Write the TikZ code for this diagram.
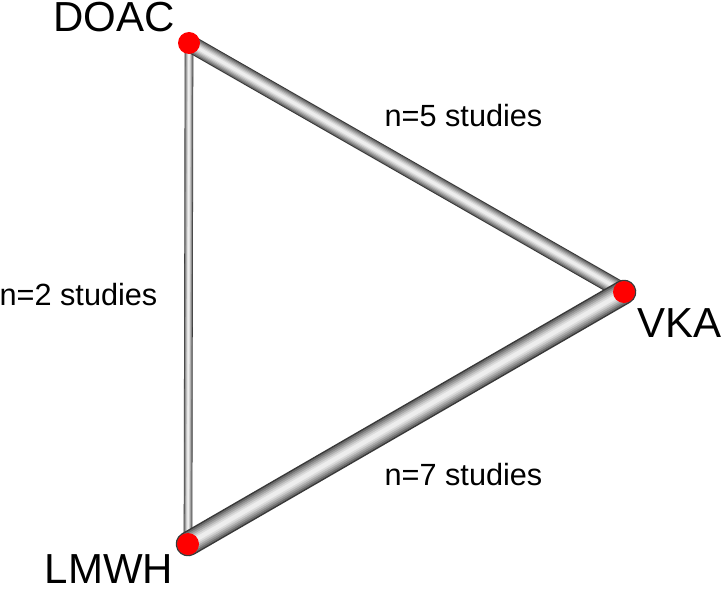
\documentclass[tikz,border=0pt]{standalone}
\usepackage{fontspec}
\setmainfont{Liberation Sans}
\usetikzlibrary{backgrounds}

% gray tube between two named points, width in pt
\newcommand{\tubeedge}[3]{%
  \foreach \f/\s in {1.00/22,0.88/42,0.74/55,0.60/66,0.46/77,0.32/86,0.18/93}{
    \pgfmathsetmacro\lw{\f*#3}
    \draw[line width=\lw pt,line cap=round,white!\s!black] (#1) -- (#2);
  }}

\tikzset{
  dot/.style={circle,fill=red,draw=none,minimum size=16.5pt,inner sep=0pt},
  drug/.style={anchor=base,inner sep=0pt,font=\fontsize{31.5}{36}\selectfont},
  count/.style={anchor=base,inner sep=0pt,font=\fontsize{23}{27}\selectfont}
}

\begin{document}
\begin{tikzpicture}[x=0.75pt,y=-0.75pt]
\useasboundingbox (0,0) rectangle (723,588);

% treatments
\node[dot] (doac) at (189,43) {};
\node[dot] (vka) at (624,292) {};
\node[dot] (lmwh) at (188,544) {};

\node[drug] (doaclabel) at (114,32) {DOAC};
\node[drug] (vkalabel) at (679.5,337) {VKA};
\node[drug] (lmwhlabel) at (109,583) {LMWH};

% number of studies
\node[count] (nab) at (463.5,127) {n=5 studies};
\node[count] (nac) at (78.5,305) {n=2 studies};
\node[count] (nbc) at (463.5,485) {n=7 studies};

% comparisons
\begin{scope}[on background layer]
\fill[white] (0,0) rectangle (723,588);
\tubeedge{doac.center}{lmwh.center}{6.5}
\tubeedge{doac.center}{vka.center}{13}
\tubeedge{lmwh.center}{vka.center}{18.5}
\end{scope}
\end{tikzpicture}
\end{document}
